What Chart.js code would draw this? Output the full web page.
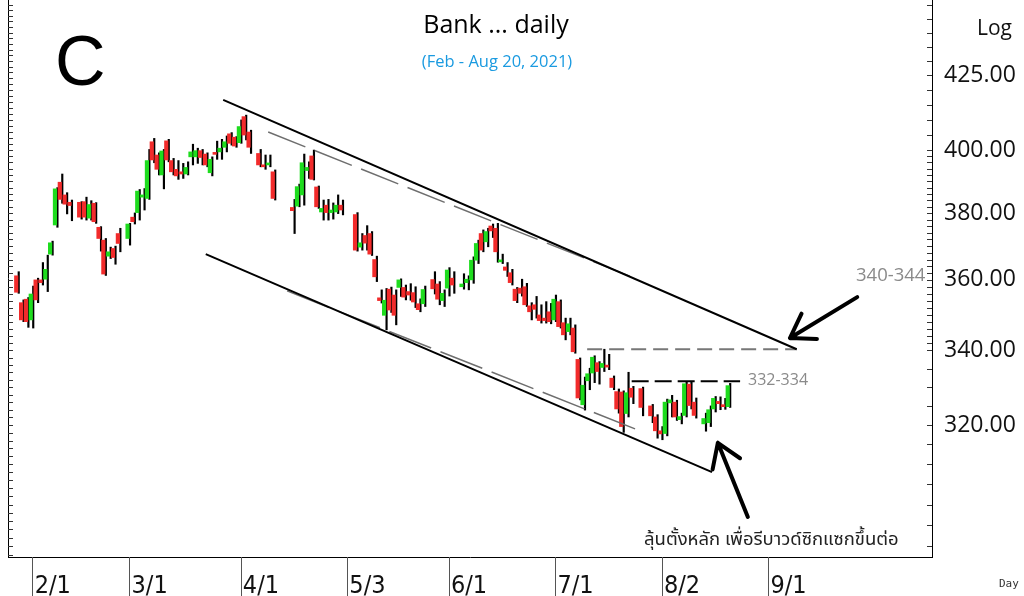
<!DOCTYPE html>
<html>
<head>
<meta charset="utf-8">
<title>Bank daily</title>
<script src="https://cdn.jsdelivr.net/npm/chart.js@4.4.1/dist/chart.umd.min.js"></script>
<style>
  html, body { margin: 0; padding: 0; background: #fff; }
  #wrap { width: 1024px; height: 596px; }
</style>
</head>
<body>
<div id="wrap"><canvas id="chart" width="1024" height="596"></canvas></div>
<script>
// trading slot = weekdays counted from Mon 1 Feb 2021 (holidays stay empty)
const dayIdx = [
  -3, -2, -1, 0, 1, 2, 3, 4, 5, 6,
  7, 8, 10, 11, 12, 13, 14, 15, 16, 17,
  18, 20, 21, 22, 23, 24, 25, 26, 27, 28,
  29, 30, 31, 32, 33, 34, 35, 36, 37, 38,
  39, 40, 41, 42, 43, 44, 45, 47, 48, 49,
  50, 54, 55, 56, 57, 58, 59, 60, 61, 62,
  63, 64, 67, 68, 69, 70, 71, 72, 73, 74,
  75, 76, 77, 78, 79, 80, 81, 83, 84, 85,
  86, 87, 89, 90, 91, 92, 93, 94, 95, 96,
  97, 98, 99, 100, 101, 102, 103, 104, 105, 106,
  107, 108, 109, 110, 111, 112, 113, 114, 115, 116,
  117, 118, 119, 120, 121, 122, 123, 124, 126, 128,
  129, 130, 131, 132, 133, 134, 135, 136, 137, 139,
  140, 141, 142, 143, 144
];
const openP = [
  361.2, 353.4, 354.4, 348.5, 360.0, 360.0, 360.2, 367.6, 376.4, 389.7,
  385.7, 383.4, 383.4, 383.6, 378.5, 383.1, 375.7, 371.8, 367.0, 369.3,
  373.8, 372.3, 378.8, 380.2, 385.0, 384.6, 402.7, 398.4, 392.0, 403.0,
  396.6, 393.8, 393.0, 392.3, 397.8, 397.8, 399.8, 398.7, 392.7, 399.1,
  399.4, 400.9, 405.3, 404.2, 402.4, 411.0, 405.9, 398.9, 395.2, 395.2,
  393.0, 381.8, 382.2, 385.7, 393.4, 398.1, 388.2, 380.4, 382.5, 380.2,
  380.4, 382.5, 379.6, 369.7, 373.2, 373.8, 366.0, 354.8, 349.8, 357.3,
  355.6, 357.8, 357.8, 356.6, 356.3, 353.1, 353.1, 360.1, 358.8, 354.0,
  357.6, 360.5, 358.0, 359.2, 360.0, 365.8, 373.8, 371.3, 376.1, 375.4,
  365.3, 363.8, 362.1, 357.3, 357.6, 358.0, 352.5, 352.8, 349.9, 349.0,
  350.8, 348.5, 353.7, 347.7, 345.2, 346.2, 337.5, 325.3, 331.7, 333.8,
  336.6, 335.3, 335.8, 332.4, 328.8, 328.7, 323.0, 329.7, 329.6, 325.0,
  322.1, 318.5, 317.8, 325.8, 326.0, 321.4, 322.5, 330.8, 326.0, 320.3,
  320.6, 324.2, 326.2, 325.3, 324.8
];
const highP = [
  362.4, 354.2, 354.9, 358.2, 360.5, 365.1, 367.3, 371.5, 388.0, 392.3,
  386.4, 384.1, 383.6, 385.0, 383.9, 383.3, 375.9, 372.3, 369.7, 370.0,
  375.4, 376.9, 380.1, 387.4, 387.7, 400.2, 403.8, 399.1, 400.2, 403.5,
  397.3, 396.6, 395.7, 396.2, 401.9, 400.6, 400.2, 399.1, 397.8, 402.9,
  403.5, 404.6, 405.7, 404.4, 409.9, 411.5, 406.5, 400.2, 398.4, 398.4,
  393.6, 384.3, 389.1, 398.7, 396.2, 400.0, 388.5, 384.1, 384.3, 383.2,
  385.7, 384.1, 380.2, 373.8, 376.2, 374.4, 367.0, 357.1, 357.5, 357.9,
  357.1, 360.3, 358.5, 358.9, 358.0, 354.5, 358.2, 362.4, 359.5, 357.1,
  363.6, 362.4, 361.8, 361.2, 366.8, 371.8, 374.9, 375.4, 376.7, 376.9,
  367.6, 365.1, 363.1, 357.8, 360.2, 359.0, 353.4, 355.2, 352.8, 353.7,
  353.2, 355.6, 354.2, 349.0, 349.0, 347.1, 337.9, 332.7, 335.1, 338.5,
  336.9, 340.3, 338.9, 333.0, 329.5, 329.0, 334.0, 330.2, 330.0, 325.4,
  322.7, 319.6, 326.8, 327.8, 326.5, 323.1, 331.5, 331.4, 327.1, 323.1,
  325.0, 327.5, 327.4, 327.0, 331.0
];
const lowP = [
  356.1, 348.0, 346.4, 346.2, 353.4, 358.5, 356.6, 367.3, 375.7, 383.1,
  379.8, 377.7, 378.2, 377.9, 377.9, 376.9, 368.5, 361.3, 366.3, 364.6,
  368.3, 370.3, 376.7, 377.9, 381.0, 384.3, 395.9, 392.0, 387.6, 396.2,
  392.0, 390.6, 390.9, 392.0, 395.2, 395.7, 395.2, 394.6, 391.7, 397.0,
  397.0, 399.4, 401.6, 400.9, 402.2, 403.3, 398.9, 394.6, 393.8, 394.6,
  384.1, 373.8, 382.0, 382.5, 390.9, 390.4, 381.5, 377.9, 377.9, 378.2,
  379.9, 379.5, 368.5, 368.8, 368.8, 367.2, 359.5, 353.3, 345.7, 350.6,
  347.1, 355.2, 354.2, 354.1, 352.0, 350.8, 352.3, 355.9, 352.8, 352.3,
  355.3, 356.1, 357.3, 357.1, 359.0, 364.8, 368.3, 369.8, 372.6, 365.2,
  364.8, 361.0, 358.5, 353.4, 355.3, 352.3, 348.5, 349.0, 347.6, 347.6,
  347.4, 348.0, 346.2, 342.9, 344.3, 339.2, 326.6, 323.9, 329.3, 331.2,
  330.8, 334.2, 334.7, 329.3, 323.1, 318.1, 322.1, 325.6, 322.4, 320.6,
  316.6, 316.2, 317.2, 322.1, 321.2, 320.3, 322.1, 324.2, 321.8, 318.4,
  319.6, 323.4, 324.0, 324.1, 324.6
];
const closeP = [
  356.4, 348.5, 348.0, 355.9, 354.2, 359.2, 363.1, 371.0, 387.6, 384.3,
  382.8, 382.4, 378.8, 378.8, 382.7, 377.4, 372.3, 361.7, 368.3, 366.6,
  370.8, 376.7, 377.4, 386.9, 385.7, 396.6, 396.8, 393.8, 399.7, 396.8,
  393.0, 391.7, 392.3, 394.4, 399.4, 399.8, 397.6, 395.2, 397.0, 398.6,
  400.6, 402.7, 402.2, 401.3, 407.7, 404.9, 400.9, 395.2, 394.6, 395.7,
  384.6, 380.8, 388.3, 395.9, 394.4, 390.6, 382.0, 381.5, 380.2, 381.0,
  382.5, 381.0, 368.8, 371.0, 370.9, 367.6, 360.9, 354.0, 354.1, 351.3,
  349.8, 360.0, 355.0, 355.6, 353.6, 351.4, 357.2, 357.4, 354.4, 356.1,
  362.9, 358.5, 358.8, 360.2, 365.8, 370.8, 368.8, 374.4, 374.6, 368.3,
  365.8, 362.8, 359.2, 354.0, 356.1, 352.8, 350.8, 351.5, 348.3, 348.3,
  348.0, 354.4, 346.6, 344.3, 347.4, 339.6, 327.1, 330.5, 333.6, 338.1,
  334.2, 336.4, 335.4, 329.9, 324.2, 319.6, 328.5, 327.3, 324.6, 322.4,
  318.5, 317.7, 326.0, 326.6, 322.1, 322.2, 330.9, 325.1, 322.5, 321.7,
  324.0, 327.0, 325.6, 324.8, 330.4
];

const monthIdx = [0, 20, 43, 65, 86, 108, 130, 152];
const monthLabels = ["2/1", "3/1", "4/1", "5/3", "6/1", "7/1", "8/2", "9/1"];
const priceTicks = [320, 340, 360, 380, 400, 425];

// hand drawn lines as [slot, price] pairs
const upperChannel = [[39.4, 416.6], [157.9, 340.3]];
const lowerChannel = [[35.8, 367.6], [140.4, 308.0]];
const upperGuide = [[48.7, 405.9], [123.4, 361.1]];
const lowerGuide = [[52.6, 356.8], [124.5, 319.0]];
const resistA = [[114.6, 340.3], [157.9, 340.3]];
const resistB = [[123.8, 331.6], [146.2, 331.6]];
// arrows: [tail, tip]
const arrows = [
  [[170.4, 355.0], [156.5, 343.4]],
  [[147.8, 297.0], [141.6, 315.4]]
];

const UP = "#1edc1e";
const DOWN = "#f22b2b";
const bodyColors = closeP.map((c, k) => c >= openP[k] ? UP : DOWN);

function lineSet(pts, color, width, dash) {
  return {
    type: "line",
    data: pts.map(p => ({ x: p[0], y: p[1] })),
    borderColor: color,
    borderWidth: width,
    borderDash: dash || [],
    pointRadius: 0,
    fill: false,
    order: 0
  };
}

const decor = {
  id: "decor",
  afterDraw(chart) {
    const ctx = chart.ctx;
    const area = chart.chartArea;
    const xs = chart.scales.x;
    const ys = chart.scales.y;
    ctx.save();

    // left frame line
    ctx.strokeStyle = "#000";
    ctx.lineWidth = 1;
    ctx.beginPath();
    ctx.moveTo(area.left + 0.5, 0);
    ctx.lineTo(area.left + 0.5, area.bottom);
    ctx.stroke();

    // small price ticks on both frame sides
    ctx.strokeStyle = "#333";
    ctx.beginPath();
    for (let v = 288; v <= 450; v += 2) {
      const y = Math.round(ys.getPixelForValue(v)) + 0.5;
      ctx.moveTo(area.left, y);
      ctx.lineTo(area.left + 5, y);
    }
    for (let v = 290; v <= 450; v += (v >= 340 && v < 400) ? 2 : 5) {
      const y = Math.round(ys.getPixelForValue(v)) + 0.5;
      ctx.moveTo(area.right - 5, y);
      ctx.lineTo(area.right, y);
    }
    ctx.stroke();

    // month separators under the axis
    ctx.strokeStyle = "#555";
    ctx.beginPath();
    monthIdx.forEach(v => {
      const x = Math.round(xs.getPixelForValue(v)) + 0.5;
      ctx.moveTo(x, area.bottom);
      ctx.lineTo(x, chart.height);
    });
    ctx.stroke();

    // arrows
    ctx.strokeStyle = "#000";
    ctx.lineWidth = 4;
    ctx.lineCap = "round";
    arrows.forEach(a => {
      const x0 = xs.getPixelForValue(a[0][0]), y0 = ys.getPixelForValue(a[0][1]);
      const x1 = xs.getPixelForValue(a[1][0]), y1 = ys.getPixelForValue(a[1][1]);
      const ang = Math.atan2(y0 - y1, x0 - x1);
      ctx.beginPath();
      ctx.moveTo(x0, y0);
      ctx.lineTo(x1, y1);
      [-0.58, 0.58].forEach(d => {
        ctx.moveTo(x1, y1);
        ctx.lineTo(x1 + 27 * Math.cos(ang + d), y1 + 27 * Math.sin(ang + d));
      });
      ctx.stroke();
    });

    // texts
    ctx.textBaseline = "alphabetic";
    ctx.fillStyle = "#000";
    ctx.textAlign = "left";
    ctx.font = "70px 'Liberation Sans', sans-serif";
    ctx.fillText("C", 55, 85);

    ctx.textAlign = "center";
    ctx.font = "25px 'Open Sans', sans-serif";
    ctx.fillText("Bank ... daily", 496, 33);
    ctx.fillStyle = "#1a9ae0";
    ctx.font = "16.5px 'Open Sans', sans-serif";
    ctx.fillText("(Feb - Aug 20, 2021)", 497, 67);

    ctx.textAlign = "left";
    ctx.fillStyle = "#111";
    ctx.font = "21px 'Open Sans', sans-serif";
    ctx.fillText("Log", 977, 35);

    ctx.fillStyle = "#8a8a8a";
    ctx.font = "18.5px 'Open Sans', sans-serif";
    ctx.fillText("340-344", 856, 281);
    ctx.font = "16px 'Open Sans', sans-serif";
    ctx.fillText("332-334", 748, 385);

    ctx.fillStyle = "#222";
    ctx.font = "18.5px 'Noto Sans Thai', 'Noto Sans Thai UI', Loma, Garuda, Tahoma, sans-serif";
    ctx.fillText("ลุ้นตั้งหลัก เพื่อรีบาวด์ซิกแซกขึ้นต่อ", 644, 545);

    ctx.fillStyle = "#333";
    ctx.font = "11px 'DejaVu Sans Mono', monospace";
    ctx.fillText("Day", 999, 587);
    ctx.restore();
  }
};

new Chart(document.getElementById("chart"), {
  type: "bar",
  data: {
    datasets: [
      {
        label: "body",
        data: dayIdx.map((d, k) => ({ x: d, y: [openP[k], closeP[k]] })),
        backgroundColor: bodyColors,
        barThickness: 3.5,
        minBarLength: 2,
        order: 1
      },
      {
        label: "wick",
        data: dayIdx.map((d, k) => ({ x: d, y: [lowP[k], highP[k]] })),
        backgroundColor: "#000",
        barThickness: 1.5,
        order: 2
      },
      lineSet(upperChannel, "#000", 2),
      lineSet(lowerChannel, "#000", 2),
      lineSet(upperGuide, "#6e6e6e", 1.5, [40, 10]),
      lineSet(lowerGuide, "#6e6e6e", 1.5, [45, 10]),
      lineSet(resistA, "#777", 2, [15, 7]),
      lineSet(resistB, "#000", 2, [17, 6])
    ]
  },
  options: {
    responsive: false,
    animation: false,
    devicePixelRatio: 1,
    layout: { padding: { left: 8, top: 0, right: 0, bottom: 0 } },
    plugins: { legend: { display: false }, tooltip: { enabled: false } },
    scales: {
      x: {
        type: "linear",
        offset: false,
        min: -5.06,
        max: 185.85,
        bounds: "data",
        afterBuildTicks: s => { s.ticks = monthIdx.map(v => ({ value: v })); },
        afterFit: s => { s.height = 39; s.paddingLeft = 0; s.paddingRight = 0; },
        grid: { display: false, offset: false },
        border: { display: true, color: "#000", width: 1 },
        ticks: {
          autoSkip: false,
          maxRotation: 0,
          align: "start",
          padding: 6,
          color: "#111",
          font: { family: "'Liberation Sans Narrow', 'DejaVu Sans Condensed', sans-serif", size: 25 },
          callback: (v, k) => "\u200A" + monthLabels[k]
        }
      },
      y: {
        type: "logarithmic",
        position: "right",
        min: 287.5,
        max: 451.8,
        bounds: "data",
        afterBuildTicks: s => { s.ticks = priceTicks.map(v => ({ value: v })); },
        afterFit: s => { s.width = 92; s.paddingTop = 0; s.paddingBottom = 0; },
        grid: { display: false },
        border: { display: true, color: "#000", width: 1 },
        ticks: {
          autoSkip: false,
          padding: 4,
          color: "#111",
          font: { family: "'Open Sans', sans-serif", size: 23 },
          callback: v => Number(v).toFixed(2)
        }
      }
    }
  },
  plugins: [decor]
});
</script>
</body>
</html>
